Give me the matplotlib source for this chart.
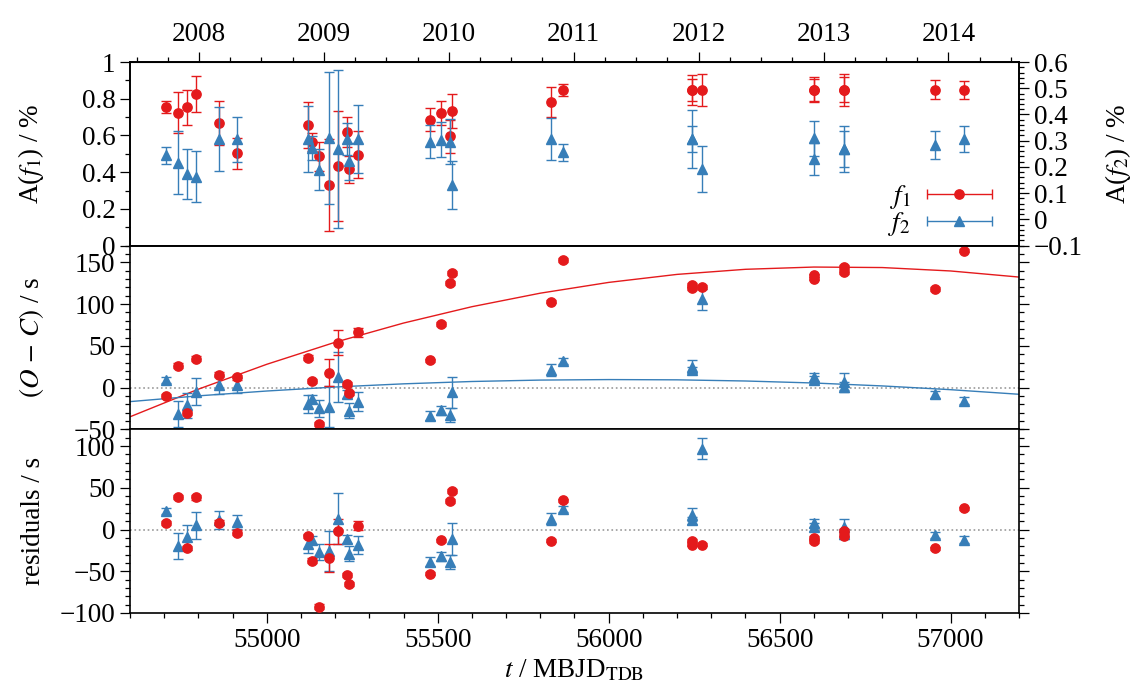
import numpy as np
import matplotlib
matplotlib.use("Agg")
import matplotlib.pyplot as plt
from matplotlib.ticker import MultipleLocator, FuncFormatter, FormatStrFormatter
from matplotlib.legend_handler import HandlerErrorbar

plt.rcParams['font.family'] = 'serif'
plt.rcParams['font.serif'] = ['Liberation Serif', 'DejaVu Serif']
plt.rcParams['mathtext.fontset'] = 'stix'
plt.rcParams['font.size'] = 19.5

RED = '#e41a1c'
BLUE = '#377eb8'

# epochs (MBJD), one per measurement
mjd = [54705, 54741, 54768, 54794, 54861, 54913, 55122, 55131, 55154, 55183,
       55209, 55235, 55241, 55268, 55477, 55510, 55535, 55541, 55830, 55865,
       56244, 56244, 56273, 56601, 56601, 56689, 56689, 56954, 57040]

# amplitudes (%)
amp1 = [0.754, 0.725, 0.754, 0.828, 0.670, 0.502, 0.659, 0.563, 0.487, 0.330,
        0.433, 0.620, 0.415, 0.496, 0.687, 0.723, 0.596, 0.732, 0.781, 0.848,
        0.848, 0.848, 0.848, 0.848, 0.848, 0.848, 0.848, 0.848, 0.848]
amp1_err = [0.034, 0.110, 0.095, 0.098, 0.120, 0.086, 0.125, 0.050, 0.080, 0.252,
            0.299, 0.083, 0.076, 0.129, 0.061, 0.066, 0.090, 0.092, 0.081, 0.034,
            0.080, 0.060, 0.089, 0.068, 0.060, 0.089, 0.068, 0.052, 0.051]
amp2 = [0.245, 0.217, 0.173, 0.163, 0.306, 0.306, 0.306, 0.273, 0.190, 0.310,
        0.269, 0.306, 0.221, 0.306, 0.297, 0.304, 0.297, 0.131, 0.306, 0.256,
        0.306, 0.306, 0.192, 0.309, 0.231, 0.269, 0.269, 0.284, 0.306]
amp2_err = [0.033, 0.120, 0.096, 0.098, 0.122, 0.086, 0.125, 0.046, 0.079, 0.251,
            0.300, 0.060, 0.072, 0.129, 0.062, 0.066, 0.084, 0.091, 0.081, 0.032,
            0.110, 0.049, 0.088, 0.066, 0.060, 0.087, 0.069, 0.053, 0.049]

# O-C (s)
oc1 = [-10.0, 26.4, -30.0, 34.8, 15.2, 12.4, 36.0, 8.0, -43.5, 18.0,
       53.6, 4.0, -6.0, 66.4, 32.8, 76.0, 125.0, 137.0, 102.8, 152.8,
       123.0, 119.0, 120.4, 134.3, 130.3, 144.4, 138.4, 118.3, 164.0]
oc1_err = [2.5, 2.5, 2.5, 2.5, 3.0, 3.0, 2.5, 2.5, 2.5, 16.6,
           15.0, 2.5, 2.5, 5.4, 2.0, 2.0, 2.5, 2.5, 2.0, 2.0,
           2.0, 2.0, 2.0, 2.0, 2.0, 2.0, 2.0, 2.0, 2.0]
oc2 = [8.8, -32.0, -21.0, -5.0, 3.2, 2.6, -19.8, -14.0, -25.0, -23.0,
       12.8, -8.0, -27.5, -16.8, -33.6, -27.3, -33.0, -5.8, 21.0, 32.4,
       25.2, 21.2, 105.6, 13.0, 9.0, 7.2, 0.5, -8.0, -15.5]
oc2_err = [3.6, 15.4, 15.0, 16.2, 10.8, 8.6, 11.0, 5.0, 10.0, 24.4,
           30.4, 5.0, 9.0, 11.2, 5.0, 5.4, 8.0, 19.0, 7.0, 3.6,
           8.0, 4.0, 12.4, 5.0, 5.0, 10.0, 6.0, 4.0, 4.0]

# residuals (s)
res1 = [7.6, 38.7, -22.0, 38.4, 8.0, -4.0, -8.0, -37.2, -92.3, -34.0,
        -2.0, -54.8, -65.0, 4.4, -52.8, -12.8, 34.4, 46.0, -13.2, 34.8,
        -13.2, -18.0, -18.0, -10.2, -13.6, -1.6, -7.2, -22.4, 25.2]
res2 = [22.2, -20.0, -9.4, 5.0, 11.4, 9.0, -17.0, -12.4, -26.8, -25.6,
        12.8, -11.6, -29.2, -18.4, -38.4, -32.0, -38.8, -11.6, 12.4, 24.2,
        17.6, 10.8, 96.9, 7.6, 2.8, 2.8, -5.2, -6.4, -12.0]

# fitted O-C curves
fit_mjd = [54600, 54800, 55000, 55200, 55400, 55600, 55800, 56000, 56200,
           56400, 56600, 56800, 57000, 57200]
fit1 = [-35.0, -1.9, 27.9, 54.3, 77.3, 96.9, 113.1, 126.0, 135.6,
        141.7, 144.4, 143.8, 139.7, 132.4]
fit2 = [-16.8, -9.9, -4.1, 0.7, 4.5, 7.3, 9.0, 9.6, 9.3,
        7.9, 5.5, 2.0, -2.5, -8.0]

# calendar axis: year 2008 label sits at this epoch
year0 = 2008
year0_mjd = 54802


def points(ax, y, yerr, color, marker, ms):
    ax.errorbar(mjd, y, yerr=yerr, fmt=marker, color=color, ms=ms,
                capsize=3.6, capthick=1.0, elinewidth=1.0, zorder=3)


def style_y(ax, major, minor, right=True):
    ax.yaxis.set_major_locator(MultipleLocator(major))
    ax.yaxis.set_minor_locator(MultipleLocator(minor))
    ax.tick_params(which='both', direction='out', width=0.9, left=True, right=right,
                   top=False, bottom=False, labelbottom=False)
    ax.tick_params(which='major', length=7)
    ax.tick_params(which='minor', length=3.5)
    for s in ax.spines.values():
        s.set_linewidth(1.2)


def fmt_g(v, p):
    return ('%g' % v).replace('-', '\u2212')


fig, (ax1, ax2, ax3) = plt.subplots(3, 1, figsize=(11.42, 7.0), dpi=100, sharex=True)
fig.subplots_adjust(left=0.1138, right=0.8923, top=0.9114, bottom=0.1243, hspace=0)

# top panel: amplitudes
ax1r = ax1.twinx()
points(ax1, amp1, amp1_err, RED, 'o', 6.7)
points(ax1r, amp2, amp2_err, BLUE, '^', 7)
ax1.set_ylim(0, 1)
ax1r.set_ylim(-0.1, 0.6)
style_y(ax1, 0.2, 0.1, right=False)
style_y(ax1r, 0.1, 0.02)
ax1r.tick_params(which='both', left=False)
ax1.yaxis.set_major_formatter(FuncFormatter(fmt_g))
ax1r.yaxis.set_major_formatter(FuncFormatter(fmt_g))
ax1.set_ylabel(r'A($f_1$) / %')
ax1.yaxis.set_label_coords(-0.095, 0.5)
ax1r.set_ylabel(r'A($f_2$) / %')
ax1r.yaxis.set_label_coords(1.095, 0.5)

sec = ax1.secondary_xaxis('top', functions=(lambda t: year0 + (t - year0_mjd) / 365.25,
                                            lambda y: year0_mjd + (y - year0) * 365.25))
sec.xaxis.set_major_locator(MultipleLocator(1))
sec.xaxis.set_minor_locator(MultipleLocator(0.25))
sec.xaxis.set_major_formatter(FormatStrFormatter('%d'))
sec.tick_params(which='both', direction='out', width=0.9)
sec.tick_params(which='major', length=7)
sec.tick_params(which='minor', length=3.5)

h1 = ax1r.errorbar([np.nan], [np.nan], xerr=[1], fmt='o', color=RED, ms=6.7,
                   capsize=3.6, elinewidth=1.0, label='$f_1$')
h2 = ax1r.errorbar([np.nan], [np.nan], xerr=[1], fmt='^', color=BLUE, ms=7,
                   capsize=3.6, elinewidth=1.0, label='$f_2$')
ax1r.legend(handles=[h1, h2], loc='center right', bbox_to_anchor=(0.9696, 0.19),
            frameon=False, markerfirst=False, handlelength=2.4, handletextpad=0.6,
            borderpad=0, borderaxespad=0, labelspacing=-0.05,
            handler_map={type(h1): HandlerErrorbar(xerr_size=1.2)})

# middle panel: O-C
ax2.axhline(0, color='#999999', ls=':', lw=1.2, zorder=1)
ax2.plot(fit_mjd, fit1, color=RED, lw=1.0, zorder=2)
ax2.plot(fit_mjd, fit2, color=BLUE, lw=1.0, zorder=2)
points(ax2, oc2, oc2_err, BLUE, '^', 7)
points(ax2, oc1, oc1_err, RED, 'o', 6.7)
ax2.set_ylim(-50, 170)
style_y(ax2, 50, 10)
ax2.set_ylabel(r'$(O\,-\,C)$ / s')
ax2.yaxis.set_label_coords(-0.095, 0.5)

# bottom panel: residuals
ax3.axhline(0, color='#999999', ls=':', lw=1.2, zorder=1)
points(ax3, res2, oc2_err, BLUE, '^', 7)
points(ax3, res1, oc1_err, RED, 'o', 6.7)
ax3.set_ylim(-100, 120)
style_y(ax3, 50, 10)
ax3.tick_params(which='both', bottom=True, labelbottom=True)
ax3.xaxis.set_major_locator(MultipleLocator(500))
ax3.xaxis.set_minor_locator(MultipleLocator(100))
ax3.xaxis.set_major_formatter(FormatStrFormatter('%d'))
ax3.set_ylabel('residuals / s')
ax3.yaxis.set_label_coords(-0.095, 0.5)
ax3.set_xlabel(r'$t$ / MBJD$_{\mathrm{TDB}}$')

ax3.set_xlim(54600, 57200)

fig.savefig('out.png', dpi=100)
